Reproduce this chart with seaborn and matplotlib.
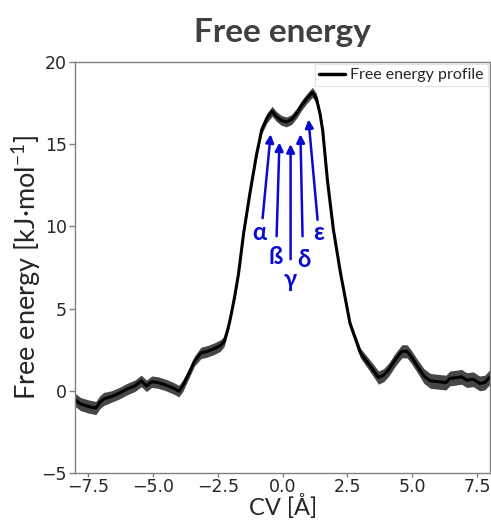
import numpy as np
import pandas as pd
import matplotlib
matplotlib.use("Agg")
import matplotlib.pyplot as plt
import seaborn as sns

# ---- data ----
cv = [-8.0, -7.8, -7.5, -7.2, -7.05, -6.9, -6.6, -6.3, -6.0, -5.7, -5.45, -5.25,
      -5.05, -4.8, -4.5, -4.2, -4.0, -3.85, -3.6, -3.4, -3.15, -2.9, -2.65, -2.4,
      -2.25, -2.1, -2.0, -1.85, -1.7, -1.5, -1.25, -1.0, -0.8, -0.6, -0.4, -0.25,
      -0.05, 0.15, 0.35, 0.55, 0.75, 0.95, 1.15, 1.3, 1.45, 1.55, 1.73, 1.96,
      2.23, 2.6, 3.0, 3.38, 3.7, 3.9, 4.1, 4.35, 4.6, 4.8, 4.95, 5.2, 5.45, 5.7,
      6.0, 6.3, 6.45, 6.7, 6.9, 7.1, 7.35, 7.6, 7.8, 8.0]
energy = [-0.55, -0.8, -0.95, -1.05, -0.7, -0.5, -0.35, -0.15, 0.1, 0.3, 0.6, 0.3,
          0.55, 0.5, 0.35, 0.15, -0.02, 0.3, 1.1, 1.8, 2.3, 2.4, 2.55, 2.75,
          3.0, 3.8, 4.5, 5.7, 7.1, 9.6, 12.1, 14.4, 15.9, 16.6, 17.0, 16.7,
          16.45, 16.35, 16.5, 16.9, 17.4, 17.8, 18.15, 17.8, 16.8, 15.8, 12.8, 9.8,
          7.2, 4.1, 2.3, 1.5, 0.8, 0.95, 1.3, 1.9, 2.4, 2.4, 2.1, 1.5, 0.9, 0.6,
          0.55, 0.5, 0.75, 0.8, 0.85, 0.65, 0.7, 0.45, 0.5, 0.85]
error = [0.4, 0.4, 0.4, 0.4, 0.4, 0.4, 0.35, 0.35, 0.35, 0.35, 0.35, 0.35,
         0.35, 0.35, 0.35, 0.35, 0.35, 0.35, 0.3, 0.3, 0.35, 0.35, 0.35, 0.35,
         0.3, 0.2, 0.15, 0.15, 0.15, 0.15, 0.15, 0.2, 0.25, 0.3, 0.3, 0.3,
         0.3, 0.3, 0.3, 0.3, 0.3, 0.3, 0.3, 0.3, 0.25, 0.2, 0.15, 0.15,
         0.15, 0.2, 0.3, 0.35, 0.4, 0.4, 0.4, 0.4, 0.4, 0.4, 0.4, 0.4, 0.45, 0.45,
         0.45, 0.45, 0.45, 0.45, 0.45, 0.45, 0.45, 0.45, 0.45, 0.45]

labels = ["α", "ß", "γ", "δ", "ε"]
arrow_tip_x = [-0.46, -0.12, 0.31, 0.69, 1.0]
arrow_tip_y = [15.6, 15.1, 15.0, 15.6, 16.5]
arrow_tail_x = [-0.77, -0.23, 0.31, 0.77, 1.35]
arrow_tail_y = [10.5, 9.4, 8.0, 9.4, 10.4]
label_x = [-0.88, -0.27, 0.31, 0.81, 1.38]
label_y = [9.6, 8.15, 6.75, 8.0, 9.6]

xticks = [-7.5, -5.0, -2.5, 0.0, 2.5, 5.0, 7.5]
yticks = [-5, 0, 5, 10, 15, 20]

# ---- style ----
sns.set_style("ticks")
plt.rcParams["font.family"] = ["Lato", "DejaVu Sans"]
plt.rcParams["mathtext.fontset"] = "custom"
plt.rcParams["mathtext.rm"] = "Lato"

df = pd.DataFrame({"cv": cv, "energy": energy, "error": error})

fig = plt.figure(figsize=(4.91, 5.23), dpi=100)
ax = fig.add_axes([0.153, 0.0956, 0.845, 0.786])

lo = np.array(energy) - np.array(error)
hi = np.array(energy) + np.array(error)
ax.fill_between(df["cv"], lo, hi, color="#262626", alpha=0.85, linewidth=0)
sns.lineplot(data=df, x="cv", y="energy", ax=ax, color="black", linewidth=2.2,
             label="Free energy profile", sort=False)

blue = "#0a0ad0"
for i in range(len(labels)):
    ax.annotate("", xy=(arrow_tip_x[i], arrow_tip_y[i]),
                xytext=(arrow_tail_x[i], arrow_tail_y[i]),
                arrowprops=dict(arrowstyle="-|>", color=blue, lw=1.8,
                                mutation_scale=12, shrinkA=0, shrinkB=0))
    ax.text(label_x[i], label_y[i], labels[i], color=blue, fontsize=17,
            fontweight="bold", ha="center", va="center",
            family=["Lato", "DejaVu Sans"])

ax.set_xlim(-8, 8)
ax.set_ylim(-5, 20)
ax.set_xticks(xticks)
ax.set_yticks(yticks)
for lab in ax.get_xticklabels() + ax.get_yticklabels():
    lab.set_family("DejaVu Sans")
    lab.set_fontsize(12.5)
ax.tick_params(axis="x", length=3, width=1, color="#808080", pad=0.5)
ax.tick_params(axis="y", length=4, width=1, color="#808080", pad=2)
for s in ax.spines.values():
    s.set_color("#808080")
    s.set_linewidth(1)

ax.set_title("Free energy", fontsize=24, fontweight="bold", color="#404040", pad=14)
ax.set_xlabel("CV [Å]", fontsize=17, labelpad=-1)
ax.set_ylabel("Free energy [kJ·mol$^{\\mathregular{-1}}$]", fontsize=19.5, labelpad=-1)

leg = ax.legend(loc="upper right", fontsize=11.5, frameon=True, fancybox=False,
                borderaxespad=0.15, handlelength=1.6, borderpad=0.25,
                handletextpad=0.35)
leg.get_frame().set_edgecolor("#dddddd")
leg.get_frame().set_linewidth(0.8)
for h in leg.get_lines():
    h.set_linewidth(2.5)

fig.savefig("out.png", dpi=100)
